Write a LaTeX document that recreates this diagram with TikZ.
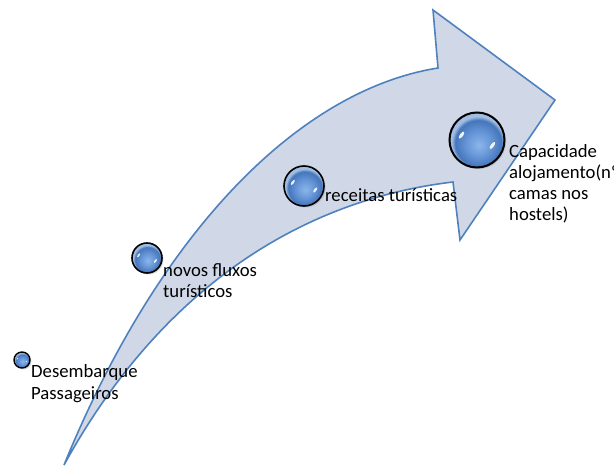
\documentclass[tikz,border=0pt]{standalone}
\usepackage{fontspec}
\setmainfont{Carlito}
\usetikzlibrary{shadows}
\definecolor{arrowfill}{RGB}{208,216,232}
\definecolor{arrowline}{RGB}{79,129,189}
\definecolor{gbone}{RGB}{140,182,234}
\definecolor{gbtwo}{RGB}{100,148,214}
\definecolor{gbthree}{RGB}{70,118,186}
\definecolor{gbfour}{RGB}{160,190,228}
\pgfdeclareradialshading{glassball}{\pgfpoint{2bp}{-5bp}}{color(0bp)=(gbone); color(12bp)=(gbtwo); color(21bp)=(gbthree); color(24bp)=(gbfour); color(50bp)=(gbfour)}
\tikzset{
  sphere/.style={circle, draw=black, line width=1.6pt, shading=glassball, inner sep=0pt,
    minimum size=#1pt,
    drop shadow={shadow xshift=1.5pt, shadow yshift=-1.5pt, opacity=0.3},
    path picture={
      \fill[white, opacity=0.9] ([shift={(-0.28*#1,-0.09*#1)}]path picture bounding box.center)
        ellipse [x radius=0.03*#1, y radius=0.075*#1, rotate=-35];
      \fill[white, opacity=0.9] ([shift={(0.28*#1,0.1*#1)}]path picture bounding box.center)
        ellipse [x radius=0.03*#1, y radius=0.075*#1, rotate=-35];
    }},
  label/.style={anchor=base west, inner sep=0pt, align=left, font=\fontsize{18.7}{21}\selectfont, text=black}
}
\begin{document}
\begin{tikzpicture}[x=1pt,y=-1pt]
\useasboundingbox (0,0) rectangle (614,468);
% arrow
\coordinate (tail) at (64,465);
\coordinate (ntop) at (438,68);
\coordinate (htop) at (433,10);
\coordinate (tip) at (555,100);
\coordinate (hbot) at (460,240);
\coordinate (nbot) at (453,182);
\draw[fill=arrowfill, draw=arrowline, line width=1.6pt, line join=miter]
  (tail) .. controls (160,230) and (300,90) .. (ntop)
  -- (htop) -- (tip) -- (hbot) -- (nbot)
  .. controls (300,200) and (160,290) .. (tail) -- cycle;
% spheres
\node[sphere=16, line width=1.4pt] (s1) at (22,360) {};
\node[sphere=30] (s2) at (147,258) {};
\node[sphere=40] (s3) at (304,186) {};
\node[sphere=55, line width=2pt] (s4) at (477,140) {};
% labels
\node[label] (t1) at (31,399) {Desembarque\\Passageiros};
\node[label] (t2) at (163,298) {novos fluxos\\turísticos};
\node[label] (t3) at (325,202) {receitas turísticas};
\node[label] (t4) at (509,221) {Capacidade\\alojamento(nº\\camas nos\\hostels)};
\end{tikzpicture}
\end{document}
